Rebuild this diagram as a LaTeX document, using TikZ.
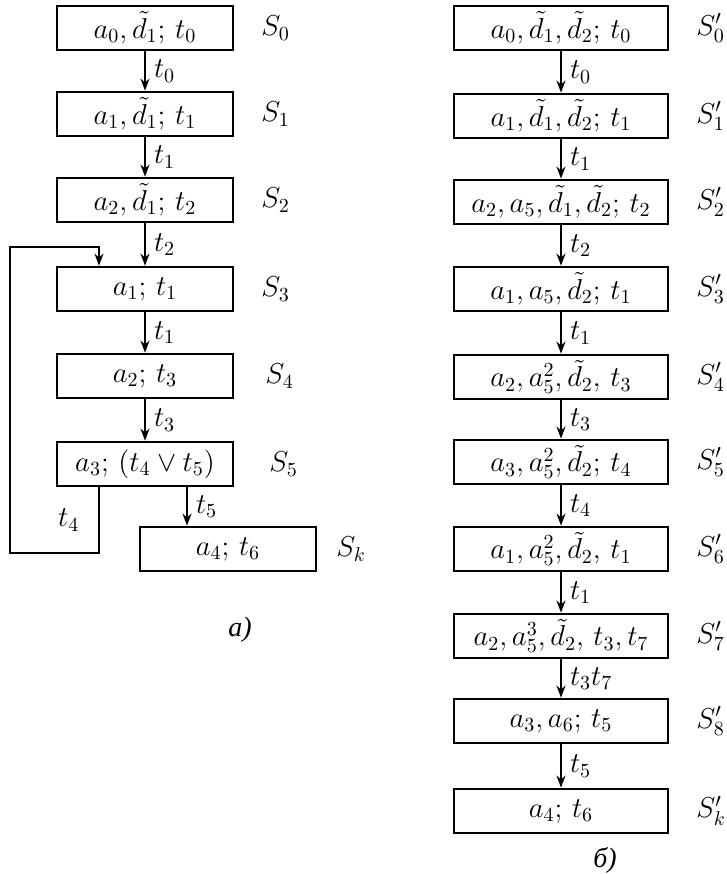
\documentclass[tikz,border=0pt]{standalone}
\usepackage{amsmath}
\usepackage{amssymb}
\usepackage{fontspec}
\newfontfamily\cyrfont{Liberation Serif}
\usepackage{tikz}
\usetikzlibrary{positioning, calc, arrows.meta}

\tikzset{
  stbox/.style={draw, line width=1.4pt, minimum height=22pt, inner sep=0pt, font=\fontsize{14}{16}\selectfont},
  lbox/.style={stbox, minimum width=88pt},
  rbox/.style={stbox, minimum width=107pt},
  flow/.style={-{Stealth[length=6pt, width=4.5pt]}, line width=1pt},
  tlab/.style={midway, right, inner sep=4pt, font=\fontsize{14}{16}\selectfont},
  slab/.style={right=#1, font=\fontsize{14}{16}\selectfont}
}

\begin{document}
\begin{tikzpicture}[x=0.5pt, y=-0.5pt]
        \useasboundingbox (0,0) rectangle (727,874);

        % left scheme
        \node[lbox] (s0) at (145,28) {$a_0,\tilde d_1;\,t_0$};
        \node[lbox] (s1) at (145,114) {$a_1,\tilde d_1;\,t_1$};
        \node[lbox] (s2) at (145,200) {$a_2,\tilde d_1;\,t_2$};
        \node[lbox] (s3) at (145,289) {$a_1;\,t_1$};
        \node[lbox] (s4) at (145,376) {$a_2;\,t_3$};
        \node[lbox] (s5) at (145,464) {$a_3;\,(t_4\vee t_5)$};
        \node[lbox] (sk) at (228,549) {$a_4;\,t_6$};

        \node[slab=10pt of s0] (ls0) {$S_0$};
        \node[slab=10pt of s1] (ls1) {$S_1$};
        \node[slab=10pt of s2] (ls2) {$S_2$};
        \node[slab=10pt of s3] (ls3) {$S_3$};
        \node[slab=12pt of s4] (ls4) {$S_4$};
        \node[slab=14pt of s5] (ls5) {$S_5$};
        \node[slab=6pt of sk] (lsk) {$S_k$};

        \draw[flow] (s0) -- (s1) node[tlab] {$t_0$};
        \draw[flow] (s1) -- (s2) node[tlab] {$t_1$};
        \draw[flow] (s2) -- (s3) node[tlab] {$t_2$};
        \draw[flow] (s3) -- (s4) node[tlab] {$t_1$};
        \draw[flow] (s4) -- (s5) node[tlab] {$t_3$};

        \coordinate (xk) at (187,0);
        \draw[flow] (s5.south -| xk) -- (sk.north -| xk) node[tlab] {$t_5$};

        \coordinate (lp1) at (99,553);
        \coordinate (lp2) at (10,247);
        \draw[flow] (s5.south -| lp1) -- (lp1) node[midway, left=6pt, font=\fontsize{14}{16}\selectfont] {$t_4$}
            -| (lp2) -| (s3.north -| lp1);

        \node[font=\fontsize{14}{16}\selectfont\cyrfont\itshape] (capa) at (240,630) {а)};

        % right scheme
        \foreach \i/\y/\txt in {0/28/{$a_0,\tilde d_1,\tilde d_2;\,t_0$},
                                 1/116/{$a_1,\tilde d_1,\tilde d_2;\,t_1$},
                                 2/202/{$a_2,a_5,\tilde d_1,\tilde d_2;\,t_2$},
                                 3/289/{$a_1,a_5,\tilde d_2;\,t_1$},
                                 4/377/{$a_2,a_5^2,\tilde d_2,\,t_3$},
                                 5/462/{$a_3,a_5^2,\tilde d_2;\,t_4$},
                                 6/549/{$a_1,a_5^2,\tilde d_2,\,t_1$},
                                 7/636/{$a_2,a_5^3,\tilde d_2,\,t_3,t_7$},
                                 8/721/{$a_3,a_6;\,t_5$},
                                 k/811/{$a_4;\,t_6$}}
        {
            \node[rbox] (r\i) at (561,\y) {\txt};
            \node[slab=10pt of r\i] (lr\i) {$S'_{\i}$};
        }

        \draw[flow] (r0) -- (r1) node[tlab] {$t_0$};
        \draw[flow] (r1) -- (r2) node[tlab] {$t_1$};
        \draw[flow] (r2) -- (r3) node[tlab] {$t_2$};
        \draw[flow] (r3) -- (r4) node[tlab] {$t_1$};
        \draw[flow] (r4) -- (r5) node[tlab] {$t_3$};
        \draw[flow] (r5) -- (r6) node[tlab] {$t_4$};
        \draw[flow] (r6) -- (r7) node[tlab] {$t_1$};
        \draw[flow] (r7) -- (r8) node[tlab] {$t_3t_7$};
        \draw[flow] (r8) -- (rk) node[tlab] {$t_5$};

        \node[font=\fontsize{14}{16}\selectfont\cyrfont\itshape] (capb) at (605,860) {б)};

    \end{tikzpicture}
\end{document}
